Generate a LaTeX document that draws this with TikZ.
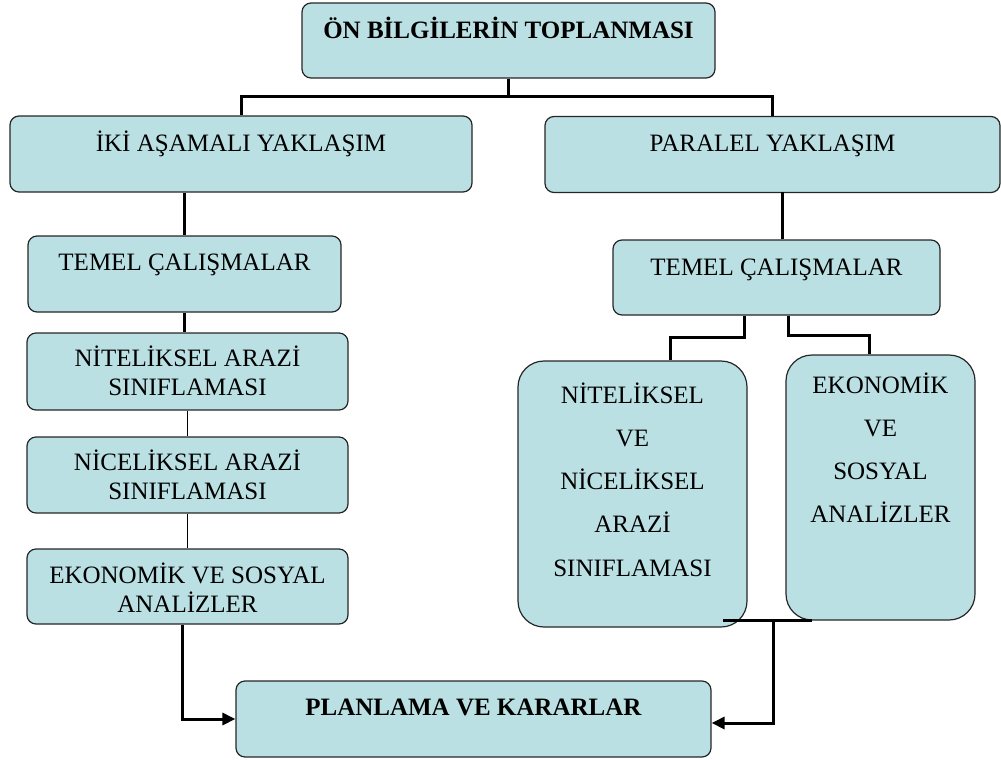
\documentclass[tikz,border=0pt]{standalone}
\usepackage{fontspec}
\setmainfont{Liberation Serif}
\usetikzlibrary{arrows.meta}

\definecolor{boxblue}{RGB}{187,224,227}

% lines of a box, first baseline on top
\newcommand{\rows}[1]{\begin{tabular}[t]{@{}c@{}}#1\end{tabular}}

\begin{document}
\begin{tikzpicture}[x=1pt,y=-1pt,
  box/.style={draw=black!85,line width=1.2pt,fill=boxblue,rounded corners=9pt,
    inner sep=0pt,font=\fontsize{25}{29.5}\selectfont},
  tallbox/.style={box,rounded corners=26pt,font=\fontsize{25}{43.3}\selectfont},
  link/.style={line width=3pt},
  thinlink/.style={line width=1.5pt},
  tip/.style={-{Triangle[length=13pt,width=12pt]}}]

\useasboundingbox (0,0) rectangle (1001,760);

% Top
\node[box,minimum width=413pt,text height=36pt,text depth=39pt] (top) at (508.5,40.5) {\textbf{ÖN BİLGİLERİN TOPLANMASI}};

% Two approaches
\node[box,minimum width=462pt,text height=35pt,text depth=41pt] (iki) at (241,154) {İKİ AŞAMALI YAKLAŞIM};
\node[box,minimum width=455pt,text height=35pt,text depth=41pt] (par) at (772.5,154.5) {PARALEL YAKLAŞIM};

% Left column
\node[box,minimum width=313pt,text height=34pt,text depth=42pt] (temelL) at (184.5,274) {TEMEL ÇALIŞMALAR};
\node[box,minimum width=321pt,text height=33pt,text depth=44pt] (nitL) at (187.5,371.5) {\rows{NİTELİKSEL ARAZİ\\SINIFLAMASI}};
\node[box,minimum width=321pt,text height=33pt,text depth=43pt] (nicL) at (187.5,475) {\rows{NİCELİKSEL ARAZİ\\SINIFLAMASI}};
\node[box,minimum width=321pt,text height=34pt,text depth=41pt] (ekoL) at (187.5,586.5) {\rows{EKONOMİK VE SOSYAL\\ANALİZLER}};

% Right column
\node[box,minimum width=327pt,text height=35pt,text depth=40pt] (temelR) at (776.5,277.5) {TEMEL ÇALIŞMALAR};
\node[tallbox,minimum width=229pt,text height=42pt,text depth=224pt] (nitve) at (632.5,494) {\rows{NİTELİKSEL\\VE\\NİCELİKSEL\\ARAZİ\\SINIFLAMASI}};
\node[tallbox,minimum width=189pt,text height=38pt,text depth=227pt] (ekoR) at (880.5,487.5) {\rows{EKONOMİK\\VE\\SOSYAL\\ANALİZLER}};

% Result
\node[box,minimum width=475pt,text height=34pt,text depth=42pt] (plan) at (473.5,719) {\textbf{PLANLAMA VE KARARLAR}};

% Connectors from the top
\draw[link] (top.south) -- ++(0,18) coordinate (fork);
\draw[link] (iki.north) |- (fork) -| (par.north);

% Left chain
\draw[link] (temelL.north |- iki.south) -- (temelL.north);
\draw[link] (temelL.south) -- (temelL.south |- nitL.north);
\draw[thinlink] (nitL.south) -- (nicL.north);
\draw[thinlink] (nicL.south) -- (ekoL.north);
\draw[link,tip] ([xshift=-5pt]ekoL.south) |- (plan.west);

% Right chain
\draw[link] ([xshift=6pt]temelR.north) -- ++(0,-47);
\draw[link] ([xshift=-32pt]temelR.south) -- ++(0,22) -| ([xshift=38pt]nitve.north);
\draw[link] ([xshift=12pt]temelR.south) -- ++(0,20) -| ([xshift=-11pt]ekoR.north);

% Join under the two boxes
\coordinate (mergeL) at (723,620);
\coordinate (mergeR) at (812,620);
\coordinate (merge) at (773,620);
\draw[link] (mergeL) -- (mergeR);
\draw[link,tip] (merge) |- ([yshift=-4pt]plan.east);

\end{tikzpicture}
\end{document}
